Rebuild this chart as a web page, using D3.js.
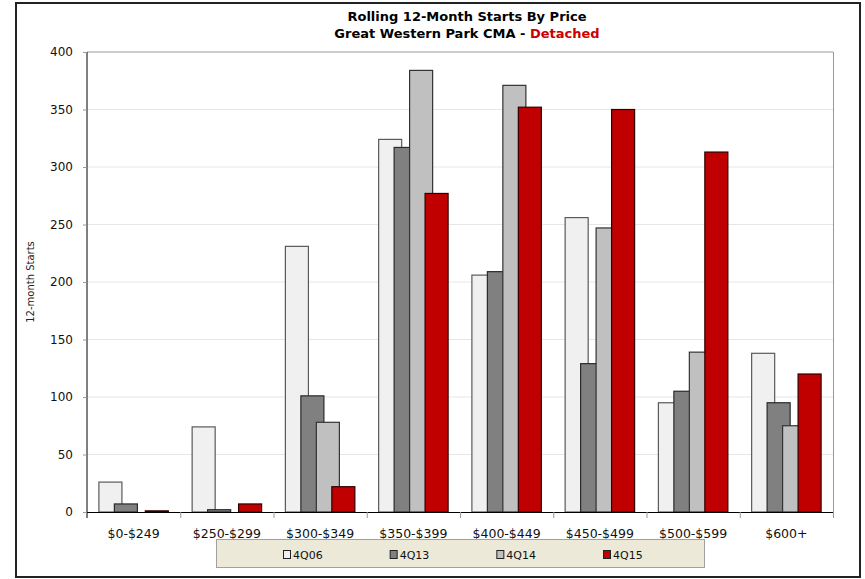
<!DOCTYPE html>
<html>
<head>
<meta charset="utf-8">
<script src="https://cdn.jsdelivr.net/npm/d3@7/dist/d3.min.js"></script>
<style>
  html, body { margin: 0; padding: 0; background: #fff; }
  svg { display: block; font-family: "DejaVu Sans", Verdana, sans-serif; }
</style>
</head>
<body>
<svg id="chart" width="865" height="579"></svg>
<script>
// Price bands and rolling 12-month detached starts for each period
const categories = ["$0-$249", "$250-$299", "$300-$349", "$350-$399", "$400-$449", "$450-$499", "$500-$599", "$600+"];
const seriesNames = ["4Q06", "4Q13", "4Q14", "4Q15"];
const values4Q06 = [26, 74, 231, 324, 206, 256, 95, 138];
const values4Q13 = [7, 2, 101, 317, 209, 129, 105, 95];
const values4Q14 = [0, 0, 78, 384, 371, 247, 139, 75];
const values4Q15 = [1, 7, 22, 277, 352, 350, 313, 120];
const yTicks = [0, 50, 100, 150, 200, 250, 300, 350, 400];

const seriesValues = [values4Q06, values4Q13, values4Q14, values4Q15];
const fills = ["#F0F0F0", "#808080", "#C0C0C0", "#C00000"];
const strokes = ["#5a5a5a", "#2a2a2a", "#333333", "#300000"];

const svg = d3.select("#chart");
const plot = { left: 87, right: 833, top: 52, bottom: 512 };

// outer frame
svg.append("rect")
  .attr("x", 16).attr("y", 3).attr("width", 844).attr("height", 574)
  .attr("fill", "#fff").attr("stroke", "#222").attr("stroke-width", 2);

// titles
svg.append("text")
  .attr("x", 467).attr("y", 21)
  .attr("text-anchor", "middle")
  .attr("font-weight", "bold").attr("font-size", 13)
  .attr("fill", "#000")
  .text("Rolling 12-Month Starts By Price");
const sub = svg.append("text")
  .attr("x", 467).attr("y", 38)
  .attr("text-anchor", "middle")
  .attr("font-weight", "bold").attr("font-size", 13)
  .attr("fill", "#000");
sub.append("tspan").text("Great Western Park CMA - ");
sub.append("tspan").attr("fill", "#CC0000").text("Detached");

// scales
const x0 = d3.scaleBand().domain(categories).range([plot.left, plot.right]).padding(0);
const bw = x0.bandwidth();
const barW = bw * 0.247;
const step = bw * 0.166;
const x1 = d3.scalePoint().domain(seriesNames).range([-1.5 * step, 1.5 * step]);
const y = d3.scaleLinear().domain([0, 400]).range([plot.bottom, plot.top]);

// gridlines
svg.append("g").selectAll("line")
  .data(yTicks.filter(t => t > 0 && t < 400))
  .join("line")
  .attr("x1", plot.left).attr("x2", plot.right)
  .attr("y1", d => y(d)).attr("y2", d => y(d))
  .attr("stroke", "#E6E6E6").attr("stroke-width", 1);

// plot border (top & right)
svg.append("line")
  .attr("x1", plot.left).attr("x2", plot.right)
  .attr("y1", y(400)).attr("y2", y(400))
  .attr("stroke", "#999").attr("stroke-width", 1);
svg.append("line")
  .attr("x1", plot.right + 0.5).attr("x2", plot.right + 0.5)
  .attr("y1", plot.top).attr("y2", plot.bottom + 6)
  .attr("stroke", "#999").attr("stroke-width", 1);

// bars, drawn series by series so later series sit on top
seriesNames.forEach((s, si) => {
  svg.append("g").selectAll("rect")
    .data(categories.map((c, ci) => ({ c, v: seriesValues[si][ci] })))
    .join("rect")
    .attr("x", d => x0(d.c) + bw / 2 + x1(s) - barW / 2)
    .attr("y", d => y(d.v))
    .attr("width", barW)
    .attr("height", d => Math.max(0, y(0) - y(d.v)))
    .attr("fill", fills[si])
    .attr("stroke", strokes[si])
    .attr("stroke-width", 1.2);
});

// y axis
const yAxis = d3.axisLeft(y).tickValues(yTicks).tickSize(4).tickPadding(10).tickFormat(d3.format("d"));
const yG = svg.append("g").attr("transform", `translate(${plot.left},0)`).call(yAxis);
yG.select(".domain").attr("stroke", "#000").attr("d", `M0,${plot.top}V${plot.bottom + 6}`);
yG.selectAll(".tick line").attr("stroke", "#999");
yG.selectAll(".tick text").attr("font-size", 12).attr("fill", "#111")
  .attr("font-family", "'DejaVu Sans', Verdana, sans-serif");

// x axis: labels centred under bands, ticks at band boundaries
svg.append("line")
  .attr("x1", plot.left).attr("x2", plot.right)
  .attr("y1", plot.bottom + 0.5).attr("y2", plot.bottom + 0.5)
  .attr("stroke", "#000").attr("stroke-width", 1.2);
svg.append("g").selectAll("line")
  .data(categories.slice(1))
  .join("line")
  .attr("x1", d => x0(d) + 0.5).attr("x2", d => x0(d) + 0.5)
  .attr("y1", plot.bottom).attr("y2", plot.bottom + 6)
  .attr("stroke", "#999");
svg.append("g").selectAll("text")
  .data(categories)
  .join("text")
  .attr("x", d => x0(d) + bw / 2)
  .attr("y", 538)
  .attr("text-anchor", "middle")
  .attr("font-size", 12.5).attr("fill", "#111")
  .text(d => d);

// y axis title
svg.append("text")
  .attr("transform", "translate(34,282) rotate(-90)")
  .attr("text-anchor", "middle")
  .attr("font-size", 10).attr("fill", "#222")
  .text("12-month Starts");

// legend
const lg = svg.append("g");
lg.append("rect")
  .attr("x", 216.5).attr("y", 539.5).attr("width", 488).attr("height", 28)
  .attr("fill", "#ECE9D8").attr("stroke", "#A0A0A0");
const legX = d3.scalePoint().domain(seriesNames).range([283, 603]);
const items = lg.selectAll("g").data(seriesNames).join("g")
  .attr("transform", d => `translate(${legX(d)},0)`);
items.append("rect")
  .attr("x", 0.5).attr("y", 550.5).attr("width", 7).attr("height", 8)
  .attr("fill", (d, i) => fills[i]).attr("stroke", "#222");
items.append("text")
  .attr("x", 10).attr("y", 558.5)
  .attr("font-size", 11).attr("fill", "#111")
  .text(d => d);
</script>
</body>
</html>
